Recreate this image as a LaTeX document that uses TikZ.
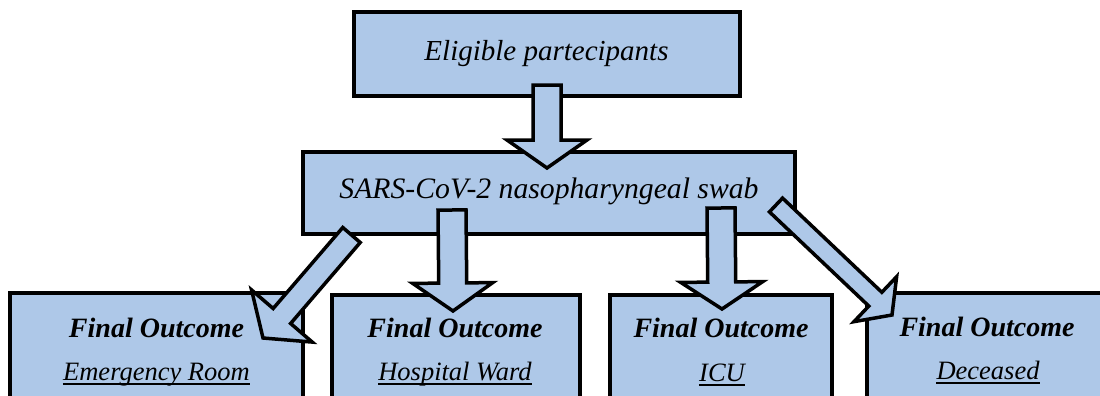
\documentclass[tikz,border=0pt]{standalone}
\usepackage{fontspec}
\setmainfont{Liberation Serif}
\usetikzlibrary{calc}
\definecolor{boxblue}{RGB}{174,200,232}
\tikzset{
  box/.style={draw=black, line width=3.5pt, fill=boxblue, inner sep=0pt},
  barrow/.style={draw=black, line width=3.5pt, fill=boxblue, line join=miter},
  ttl/.style={anchor=base, inner sep=0pt, font=\fontsize{29}{33}\selectfont\itshape},
  mid/.style={anchor=base, inner sep=0pt, font=\fontsize{29.7}{34}\selectfont\itshape},
  fo/.style={anchor=base, inner sep=0pt, font=\fontsize{28}{32}\selectfont\bfseries\itshape},
  sub/.style={anchor=base, inner sep=0pt, font=\fontsize{26.5}{30}\selectfont\itshape},
  uline/.style={draw=black, line width=1.5pt},
}
\newcommand\blockarrow[5]{%
  \path ($(#2)!#3!(#1)$) coordinate (hb);
  \draw[barrow] ($(#1)!#4!90:(#2)$) -- ($(hb)!#4!90:(#2)$) -- ($(hb)!#5!90:(#2)$) -- (#2)
    -- ($(hb)!#5!-90:(#2)$) -- ($(hb)!#4!-90:(#2)$) -- ($(#1)!#4!-90:(#2)$) -- cycle;
}
\newcommand\underl[1]{\draw[uline] ($(#1.base west)+(0,4)$) -- ($(#1.base east)+(0,4)$);}
\begin{document}
\begin{tikzpicture}[x=1pt,y=-1pt]
\useasboundingbox (0,0) rectangle (1100,396);
\clip (0,0) rectangle (1100,396);
\fill[white] (0,0) rectangle (1100,396);
% boxes
\node[box, minimum width=386pt, minimum height=84pt] (top) at (547,54) {};
\node[box, minimum width=492pt, minimum height=82pt] (swab) at (549,193) {};
\node[box, minimum width=293pt, minimum height=137pt] (er) at (156.5,361.5) {};
\node[box, minimum width=248pt, minimum height=135pt] (hw) at (456,362.5) {};
\node[box, minimum width=222pt, minimum height=135pt] (icu) at (721,362.5) {};
\node[box, minimum width=243pt, minimum height=137pt] (dec) at (988.5,361.5) {};
% texts
\node[ttl] (ttop) at (546.5,60) {Eligible partecipants};
\node[mid] (tswab) at (549,198) {SARS-CoV-2 nasopharyngeal swab};
\node[fo] (fo1) at (156.5,337) {Final Outcome};
\node[fo] (fo2) at (455,337) {Final Outcome};
\node[fo] (fo3) at (721,337) {Final Outcome};
\node[fo] (fo4) at (987,336) {Final Outcome};
\node[sub] (s1) at (156.5,380) {Emergency Room};
\node[sub] (s2) at (455,380) {Hospital Ward};
\node[sub] (s3) at (722,381) {ICU};
\node[sub] (s4) at (988,379) {Deceased};
\underl{s1}\underl{s2}\underl{s3}\underl{s4}
% arrow anchor coordinates
\coordinate (a0) at (547,85);  \coordinate (b0) at (547,168);
\coordinate (a1) at (452,210); \coordinate (b1) at (453,311);
\coordinate (a2) at (721,208); \coordinate (b2) at (722,309);
\coordinate (a3) at (351.5,235); \coordinate (b3) at (263,338);
\coordinate (a4) at (776,205); \coordinate (b4) at (892,315);
% block arrows
\blockarrow{a0}{b0}{28pt}{14pt}{40pt}
\blockarrow{a1}{b1}{28pt}{14pt}{40pt}
\blockarrow{a2}{b2}{27pt}{14pt}{41pt}
\blockarrow{a3}{b3}{29pt}{11.5pt}{40pt}
\blockarrow{a4}{b4}{23pt}{9.5pt}{31pt}
\end{tikzpicture}
\end{document}
